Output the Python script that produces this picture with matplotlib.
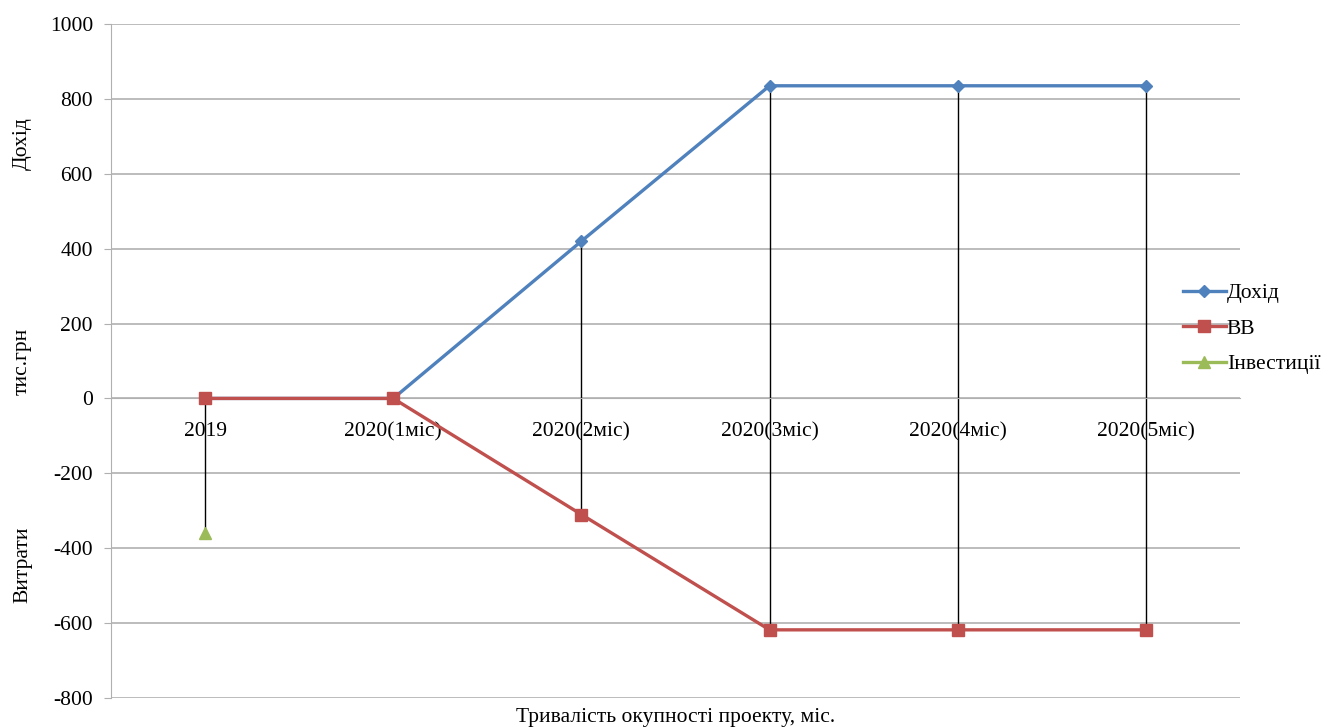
import numpy as np
import matplotlib.pyplot as plt

plt.rcParams['font.family'] = ['Liberation Serif', 'DejaVu Serif']
plt.rcParams['axes.unicode_minus'] = False

categories = ["2019", "2020(1міс)", "2020(2міс)", "2020(3міс)", "2020(4міс)", "2020(5міс)"]
dohid = [0, 0, 420, 835, 835, 835]
vv = [0, 0, -310, -618, -618, -618]
investytsii = [-360, np.nan, np.nan, np.nan, np.nan, np.nan]

FS = 15.5

fig = plt.figure(figsize=(13.28, 7.27), dpi=100)
ax = fig.add_axes([0.0836, 0.0399, 0.8501, 0.9271])

x = np.arange(len(categories))

# high-low (drop) lines
all_vals = np.array([dohid, vv, investytsii], dtype=float)
hi = np.nanmax(all_vals, axis=0)
lo = np.nanmin(all_vals, axis=0)
ax.vlines(x, lo, hi, color='black', linewidth=1, zorder=2)

ax.plot(x, dohid, color='#4f81bd', linewidth=2.4, marker='D', markersize=6,
        label='Дохід', zorder=3)
ax.plot(x, vv, color='#c0504d', linewidth=2.4, marker='s', markersize=8,
        label='ВВ', zorder=4)
ax.plot(x, investytsii, color='#9bbb59', linewidth=2.4, marker='^', markersize=8,
        label='Інвестиції', zorder=5)

ax.set_xlim(-0.5, 5.5)
ax.set_ylim(-800, 1000)
ax.set_yticks(np.arange(-800, 1001, 200))
ax.yaxis.grid(True, color='#b0b0b0', linewidth=1.2, zorder=0)
ax.set_axisbelow(True)

ax.set_xticks(x)
ax.set_xticklabels(categories)
ax.spines['bottom'].set_position(('data', 0))
ax.spines['bottom'].set_color('#b0b0b0')
ax.spines['left'].set_color('#b0b0b0')
ax.spines['top'].set_visible(False)
ax.spines['right'].set_visible(False)
ax.tick_params(axis='x', length=0, pad=17, labelsize=FS)
ax.tick_params(axis='y', length=5, color='#b0b0b0', labelsize=FS, pad=8)

fig.text(0.509, 0.013, 'Тривалість окупності проекту, міс.', ha='center',
         va='center', fontsize=FS)
fig.text(0.017, 0.803, 'Дохід', rotation=90, ha='center', va='center', fontsize=FS)
fig.text(0.017, 0.503, 'тис.грн', rotation=90, ha='center', va='center', fontsize=FS)
fig.text(0.017, 0.223, 'Витрати', rotation=90, ha='center', va='center', fontsize=FS)

fig.legend(loc='center left', bbox_to_anchor=(0.876, 0.548), frameon=False,
           fontsize=FS, handlelength=2.0, handletextpad=0.05, labelspacing=0.72)

fig.savefig('out.png', dpi=100)
